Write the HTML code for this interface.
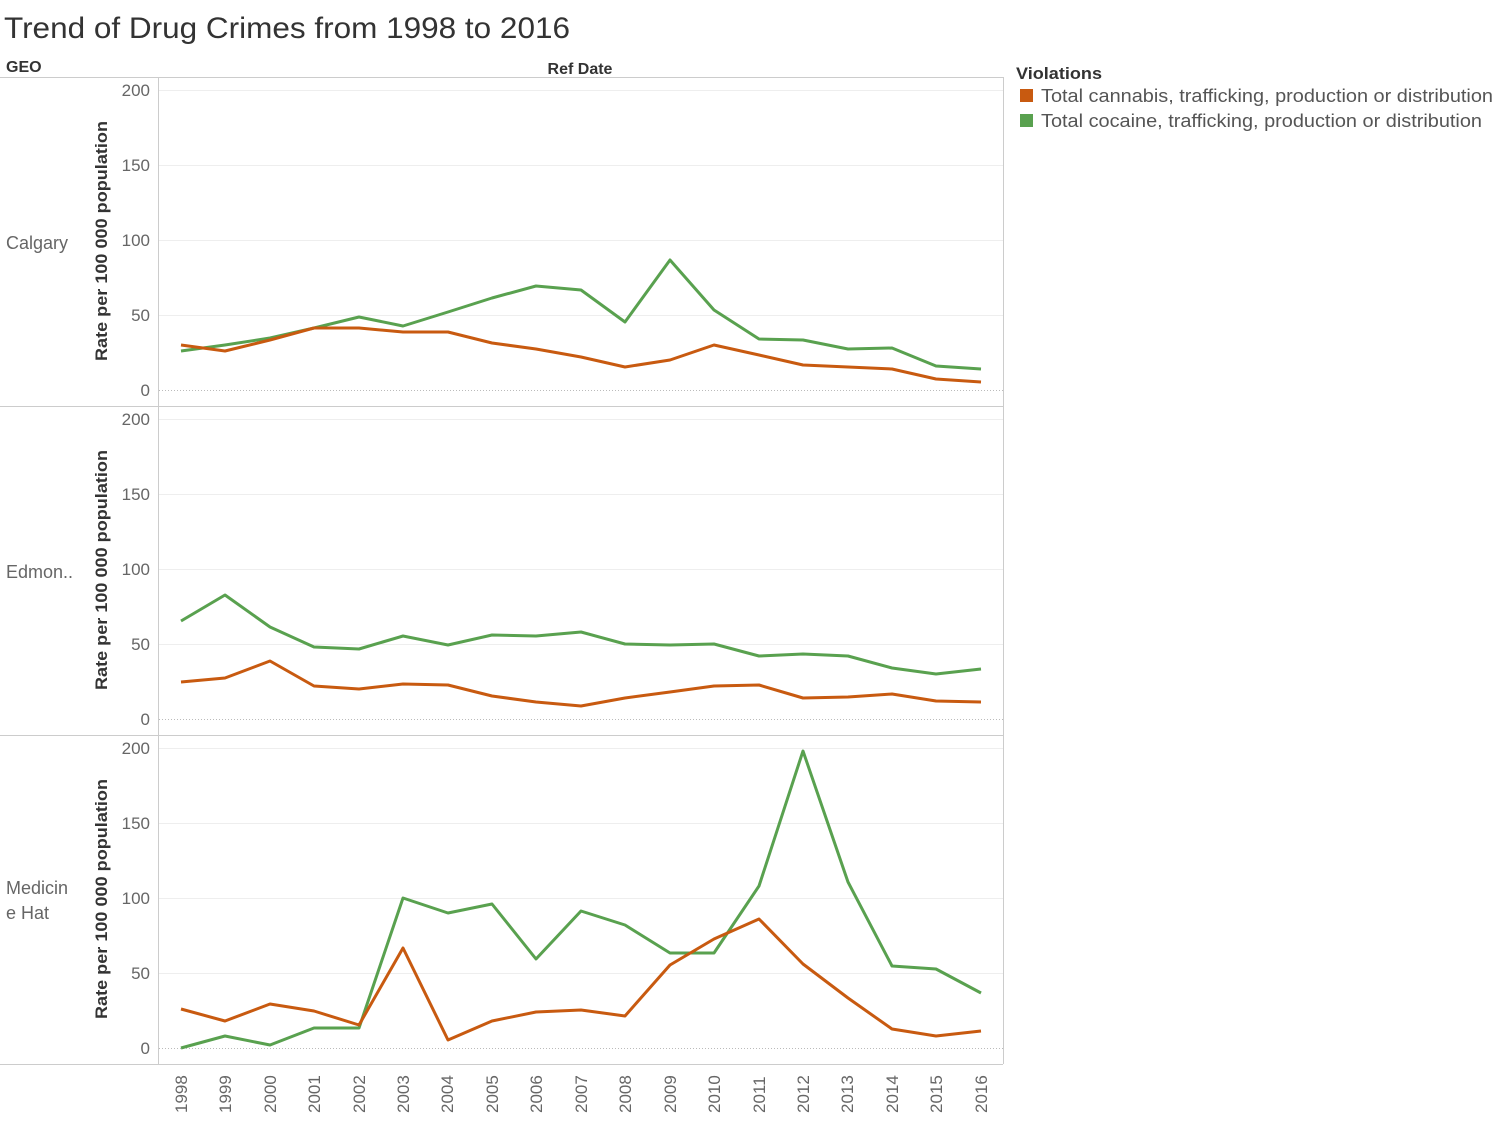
<!DOCTYPE html>
<html><head><meta charset="utf-8"><style>
html,body{margin:0;padding:0;background:#fff;}
svg{display:block;font-family:"Liberation Sans","DejaVu Sans",sans-serif;}
</style></head><body>
<svg width="1499" height="1125" viewBox="0 0 1499 1125" xmlns="http://www.w3.org/2000/svg">
<text x="4" y="38" font-size="30" fill="#333" textLength="566" lengthAdjust="spacingAndGlyphs">Trend of Drug Crimes from 1998 to 2016</text>
<text x="6" y="72" font-size="16" font-weight="bold" fill="#333">GEO</text>
<text x="580" y="74" font-size="16" font-weight="bold" fill="#333" text-anchor="middle">Ref Date</text>
<text x="1016" y="79" font-size="17" font-weight="bold" fill="#333" textLength="86" lengthAdjust="spacingAndGlyphs">Violations</text>
<rect x="1020" y="89" width="13" height="13" fill="#c85a10"/>
<text x="1041" y="102" font-size="18" fill="#555" textLength="452" lengthAdjust="spacingAndGlyphs">Total cannabis, trafficking, production or distribution</text>
<rect x="1020" y="114" width="13" height="13" fill="#59a14f"/>
<text x="1041" y="127" font-size="18" fill="#555" textLength="441" lengthAdjust="spacingAndGlyphs">Total cocaine, trafficking, production or distribution</text>
<g stroke="#ccc" stroke-width="1" fill="none">
<line x1="0" y1="77.5" x2="1003" y2="77.5"/>
<line x1="0" y1="406.5" x2="1003" y2="406.5"/>
<line x1="0" y1="735.5" x2="1003" y2="735.5"/>
<line x1="0" y1="1064.5" x2="1003" y2="1064.5"/>
<line x1="158.5" y1="77" x2="158.5" y2="1064"/>
<line x1="1003.5" y1="77" x2="1003.5" y2="1064"/>
</g>
<g stroke="#eee" stroke-width="1">
<line x1="159" x2="1003" y1="90.5" y2="90.5"/><line x1="159" x2="1003" y1="165.5" y2="165.5"/><line x1="159" x2="1003" y1="240.5" y2="240.5"/><line x1="159" x2="1003" y1="315.5" y2="315.5"/>
<line x1="159" x2="1003" y1="419.5" y2="419.5"/><line x1="159" x2="1003" y1="494.5" y2="494.5"/><line x1="159" x2="1003" y1="569.5" y2="569.5"/><line x1="159" x2="1003" y1="644.5" y2="644.5"/>
<line x1="159" x2="1003" y1="748.5" y2="748.5"/><line x1="159" x2="1003" y1="823.5" y2="823.5"/><line x1="159" x2="1003" y1="898.5" y2="898.5"/><line x1="159" x2="1003" y1="973.5" y2="973.5"/>
</g>
<g stroke="#bbb" stroke-width="1" stroke-dasharray="1,2">
<line x1="159" x2="1003" y1="390.5" y2="390.5"/><line x1="159" x2="1003" y1="719.5" y2="719.5"/><line x1="159" x2="1003" y1="1048.5" y2="1048.5"/>
</g>
<g font-size="17" fill="#666" text-anchor="end">
<text x="150" y="96">200</text><text x="150" y="171">150</text><text x="150" y="246">100</text><text x="150" y="321">50</text><text x="150" y="396">0</text>
<text x="150" y="425">200</text><text x="150" y="500">150</text><text x="150" y="575">100</text><text x="150" y="650">50</text><text x="150" y="725">0</text>
<text x="150" y="754">200</text><text x="150" y="829">150</text><text x="150" y="904">100</text><text x="150" y="979">50</text><text x="150" y="1054">0</text>
</g>
<g font-size="17" font-weight="bold" fill="#333" text-anchor="middle">
<text transform="translate(107,241) rotate(-90)" textLength="240" lengthAdjust="spacingAndGlyphs">Rate per 100 000 population</text>
<text transform="translate(107,570) rotate(-90)" textLength="240" lengthAdjust="spacingAndGlyphs">Rate per 100 000 population</text>
<text transform="translate(107,899) rotate(-90)" textLength="240" lengthAdjust="spacingAndGlyphs">Rate per 100 000 population</text>
</g>
<g font-size="18" fill="#666">
<text x="6" y="249">Calgary</text>
<text x="6" y="578">Edmon..</text>
<text x="6" y="894">Medicin</text>
<text x="6" y="919">e Hat</text>
</g>
<g font-size="17" fill="#666">
<text transform="translate(187,1113) rotate(-90)">1998</text>
<text transform="translate(231,1113) rotate(-90)">1999</text>
<text transform="translate(276,1113) rotate(-90)">2000</text>
<text transform="translate(320,1113) rotate(-90)">2001</text>
<text transform="translate(365,1113) rotate(-90)">2002</text>
<text transform="translate(409,1113) rotate(-90)">2003</text>
<text transform="translate(453,1113) rotate(-90)">2004</text>
<text transform="translate(498,1113) rotate(-90)">2005</text>
<text transform="translate(542,1113) rotate(-90)">2006</text>
<text transform="translate(587,1113) rotate(-90)">2007</text>
<text transform="translate(631,1113) rotate(-90)">2008</text>
<text transform="translate(676,1113) rotate(-90)">2009</text>
<text transform="translate(720,1113) rotate(-90)">2010</text>
<text transform="translate(765,1113) rotate(-90)">2011</text>
<text transform="translate(809,1113) rotate(-90)">2012</text>
<text transform="translate(853,1113) rotate(-90)">2013</text>
<text transform="translate(898,1113) rotate(-90)">2014</text>
<text transform="translate(942,1113) rotate(-90)">2015</text>
<text transform="translate(987,1113) rotate(-90)">2016</text>
</g>
<g fill="none" stroke-width="3" stroke-linejoin="round">
<polyline stroke="#59a14f" points="181,351 225,345 270,338 314,328 359,317 403,326 448,312 492,298 536,286 581,290 625,322 670,260 714,310 759,339 803,340 848,349 892,348 936,366 981,369"/>
<polyline stroke="#c85a10" points="181,345 225,351 270,340 314,328 359,328 403,332 448,332 492,343 536,349 581,357 625,367 670,360 714,345 759,355 803,365 848,367 892,369 936,379 981,382"/>
<polyline stroke="#59a14f" points="181,621 225,595 270,627 314,647 359,649 403,636 448,645 492,635 536,636 581,632 625,644 670,645 714,644 759,656 803,654 848,656 892,668 936,674 981,669"/>
<polyline stroke="#c85a10" points="181,682 225,678 270,661 314,686 359,689 403,684 448,685 492,696 536,702 581,706 625,698 670,692 714,686 759,685 803,698 848,697 892,694 936,701 981,702"/>
<polyline stroke="#59a14f" points="181,1048 225,1036 270,1045 314,1028 359,1028 403,898 448,913 492,904 536,959 581,911 625,925 670,953 714,953 759,886 803,751 848,882 892,966 936,969 981,993"/>
<polyline stroke="#c85a10" points="181,1009 225,1021 270,1004 314,1011 359,1025 403,948 448,1040 492,1021 536,1012 581,1010 625,1016 670,965 714,939 759,919 803,964 848,998 892,1029 936,1036 981,1031"/>
</g>
</svg>
</body></html>
